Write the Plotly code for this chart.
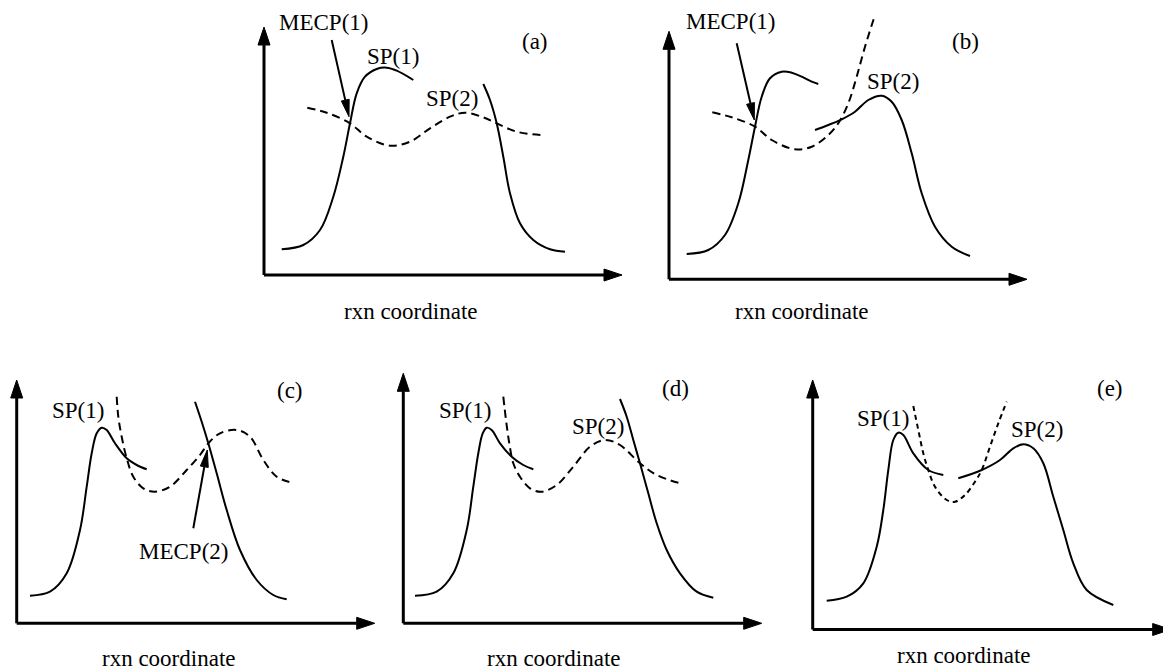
import math
import plotly.graph_objects as go

FIG_W, FIG_H = 1163, 671

# ---------------- data: curves in panel-local units (x right, y up from the axis corner)
# Panel (a)
A_S1_X = [17.7, 39.3, 56, 69.3, 79.3, 86, 92.7, 101, 112.7, 122.7, 132.7, 149.3]
A_S1_Y = [25.7, 30, 45, 78.3, 118.3, 151.7, 181.7, 198.3, 206, 207.3, 204.3, 195]
A_S2_X = [219.3, 226, 232.7, 239.3, 246, 256, 269.3, 286, 301]
A_S2_Y = [191, 175, 151.7, 118.3, 81.7, 51.7, 35, 25.7, 23.3]
A_D_X = [43.3, 62.7, 86, 102.7, 126, 146, 166, 186, 201, 219.3, 232.7, 252.7, 277.7]
A_D_Y = [167.3, 162.3, 151.7, 138.3, 129.3, 133.3, 146.7, 158.3, 162.3, 157.7, 151.7, 143.3, 140]

# Panel (b)
B_S1_X = [17.7, 39.3, 56, 69.3, 79.3, 86, 92.7, 101, 112.7, 122.7, 132.7, 142.7, 149.3]
B_S1_Y = [25.3, 29.3, 44.3, 76, 119.3, 152.6, 182.6, 201, 207.6, 206.6, 202.6, 197.6, 195.3]
B_S2_X = [146, 159.3, 172.7, 186, 199.3, 212.7, 222.7, 232.7, 242.7, 252.7, 266, 282.7, 301]
B_S2_Y = [149.3, 154.3, 160, 167.6, 179.3, 183.6, 177.6, 159.3, 126, 86, 52.6, 32.6, 23.3]
B_D_X = [43.3, 62.7, 86, 102.7, 126, 142.7, 159.3, 169.3, 179.3, 187.7, 196, 206]
B_D_Y = [167, 162, 152.6, 139.3, 130, 132.6, 144.3, 156, 176, 202.6, 232.6, 264.3]

# Panel (c)
C_S1_X = [13.3, 33.3, 50, 63.3, 70, 75, 80, 85, 90, 98.3, 110, 120, 130]
C_S1_Y = [27.6, 31.6, 50, 93.3, 136.6, 170, 190, 195.6, 193.3, 180, 165, 158.3, 154]
C_S2_X = [178.3, 185, 191.6, 200, 210, 223.3, 240, 256.6, 270]
C_S2_Y = [221.6, 201.6, 180, 150, 113.3, 73.3, 43.3, 28.3, 24]
C_D_X = [100, 101.6, 105, 110, 116.6, 126.6, 138.3, 153.3, 170, 183.3, 191.6, 203.3, 220, 233.3, 246.6, 260, 275]
C_D_Y = [226.6, 206.6, 186.6, 165, 146.6, 135, 131.6, 136.6, 153.3, 168.3, 180, 190, 193.3, 186.6, 163.3, 146.6, 140.6]

# Panel (d)
D_S1_X = [11.7, 33.4, 50, 63.4, 70, 75, 79.4, 83.4, 88.4, 96.7, 108.4, 120, 130]
D_S1_Y = [27.6, 31.6, 50, 93.3, 136.6, 170, 190, 195.6, 193.3, 180, 166.6, 158.3, 154]
D_S2_X = [216.7, 223.4, 230, 236.7, 245, 253.4, 263.4, 276.7, 293.4, 310]
D_S2_Y = [224.3, 206.6, 183.3, 160, 130, 100, 73.3, 50, 31.6, 25.6]
D_D_X = [100, 102.7, 106, 110, 116.7, 126.7, 138.4, 153.4, 170, 186.7, 201.7, 216.7, 236.7, 253.4, 276.7]
D_D_Y = [226.6, 203.3, 180, 160, 146.6, 135, 131.6, 138.3, 156.6, 176.6, 183.3, 178.3, 160, 148.3, 140]

# Panel (e)
E_S1_X = [14, 34, 50.6, 64, 70.6, 75.6, 80.6, 85.6, 90.6, 100.6, 115.6, 130.6]
E_S1_Y = [28.8, 32.8, 46.2, 82.8, 119.5, 159.5, 189.5, 196.8, 194.5, 176.2, 159.5, 154.5]
E_S2_X = [145.6, 169, 187.3, 200.6, 210.6, 220.6, 230.6, 240.6, 250.6, 260.6, 274, 300.6]
E_S2_Y = [151.2, 159.5, 169.5, 181.2, 185.2, 181.2, 166.2, 132.8, 99.5, 66.2, 39.5, 24.5]
E_D_X = [100.6, 105.6, 110.6, 115.6, 122.3, 134, 142.3, 152.3, 162.3, 169, 177.3, 185.6, 194]
E_D_Y = [223.5, 199.5, 176.2, 159.5, 142.8, 129.5, 127.8, 134.5, 147.8, 159.5, 182.8, 206.2, 227.8]

AXIS_LABEL = "rxn coordinate"

# ---------------- layout of panels (page pixels, y measured upward from page bottom)
PANELS = {
    "a": dict(origin=(264, 396), w=358, h=248,
              curves=[(A_S1_X, A_S1_Y, "solid"), (A_S2_X, A_S2_Y, "solid"), (A_D_X, A_D_Y, "dash")],
              labels=[("MECP(1)", 59, 253), ("SP(1)", 129.3, 218.3), ("SP(2)", 187.7, 176.7),
                      ("(a)", 271, 233.3), (AXIS_LABEL, 146, -36.7)],
              pointer=((67.7, 235), (85, 158.3))),
    "b": dict(origin=(669, 391.7), w=358, h=248,
              curves=[(B_S1_X, B_S1_Y, "solid"), (B_S2_X, B_S2_Y, "solid"), (B_D_X, B_D_Y, "dash")],
              labels=[("MECP(1)", 61, 257.6), ("SP(2)", 224.3, 198.3),
                      ("(b)", 296, 237.6), (AXIS_LABEL, 132.7, -32.4)],
              pointer=((67.7, 236), (85.3, 159.3))),
    "c": dict(origin=(16.7, 47.7), w=358, h=243.3,
              curves=[(C_S1_X, C_S1_Y, "solid"), (C_S2_X, C_S2_Y, "solid"), (C_D_X, C_D_Y, "dash")],
              labels=[("SP(1)", 61.6, 213.3), ("MECP(2)", 166.6, 71.6),
                      ("(c)", 273.3, 233.3), (AXIS_LABEL, 151.6, -35)],
              pointer=((176.6, 95), (190.6, 173.3))),
    "d": dict(origin=(403.3, 47.7), w=358.4, h=250,
              curves=[(D_S1_X, D_S1_Y, "solid"), (D_S2_X, D_S2_Y, "solid"), (D_D_X, D_D_Y, "dash")],
              labels=[("SP(1)", 61.7, 213.3), ("SP(2)", 195, 196.6),
                      ("(d)", 271.7, 235), (AXIS_LABEL, 150, -35)],
              pointer=None),
    "e": dict(origin=(812.7, 41.5), w=358, h=249.5,
              curves=[(E_S1_X, E_S1_Y, "solid"), (E_S2_X, E_S2_Y, "solid"), (E_D_X, E_D_Y, "5px,4px")],
              labels=[("SP(1)", 70.6, 211.2), ("SP(2)", 224, 200.2),
                      ("(e)", 297.3, 241.2), (AXIS_LABEL, 150.3, -26.0)],
              pointer=None),
}

FONT = dict(family="Liberation Serif, Times New Roman, serif", size=23, color="black")

fig = go.Figure()
shapes = []
annotations = []


def tri(tip, tail, length, half):
    tx, ty = tip
    dx, dy = tip[0] - tail[0], tip[1] - tail[1]
    n = math.hypot(dx, dy)
    ux, uy = dx / n, dy / n
    bx, by = tx - ux * length, ty - uy * length
    px, py = -uy, ux
    return (f"M{tx},{ty} L{bx + px * half},{by + py * half} "
            f"L{bx - px * half},{by - py * half} Z"), (bx, by)


for key, p in PANELS.items():
    ox, oy = p["origin"]
    for xs, ys, dash in p["curves"]:
        fig.add_trace(go.Scatter(
            x=[ox + v for v in xs], y=[oy + v for v in ys], mode="lines",
            line=dict(color="black", width=2, shape="spline", smoothing=1,
                      dash="8px,5px" if dash == "dash" else dash),
            hoverinfo="skip", showlegend=False))
    # axes with arrowheads
    for tip in [(ox + p["w"], oy), (ox, oy + p["h"])]:
        path, base = tri(tip, (ox, oy), 18, 6)
        shapes.append(dict(type="line", xref="x", yref="y", x0=ox, y0=oy,
                           x1=base[0], y1=base[1], line=dict(color="black", width=3)))
        shapes.append(dict(type="path", xref="x", yref="y", path=path,
                           fillcolor="black", line=dict(color="black", width=1)))
    for text, lx, ly in p["labels"]:
        annotations.append(dict(text=text, x=ox + lx, y=oy + ly, xref="x", yref="y",
                                showarrow=False, font=FONT, xanchor="center", yanchor="middle"))
    if p["pointer"]:
        (tx0, ty0), (tx1, ty1) = p["pointer"]
        tail = (ox + tx0, oy + ty0)
        tip = (ox + tx1, oy + ty1)
        path, base = tri(tip, tail, 17, 4)
        shapes.append(dict(type="line", xref="x", yref="y", x0=tail[0], y0=tail[1],
                           x1=base[0], y1=base[1], line=dict(color="black", width=2)))
        shapes.append(dict(type="path", xref="x", yref="y", path=path,
                           fillcolor="black", line=dict(color="black", width=1)))

fig.update_layout(
    width=FIG_W, height=FIG_H,
    margin=dict(l=0, r=0, t=0, b=0),
    paper_bgcolor="white", plot_bgcolor="white",
    xaxis=dict(range=[0, FIG_W], visible=False, fixedrange=True),
    yaxis=dict(range=[0, FIG_H], visible=False, fixedrange=True),
    shapes=shapes, annotations=annotations, showlegend=False,
)

fig.write_html(
    "out.html",
    config={"displayModeBar": False},
    post_script="document.body.style.margin='0px';document.body.style.overflow='hidden';",
)
